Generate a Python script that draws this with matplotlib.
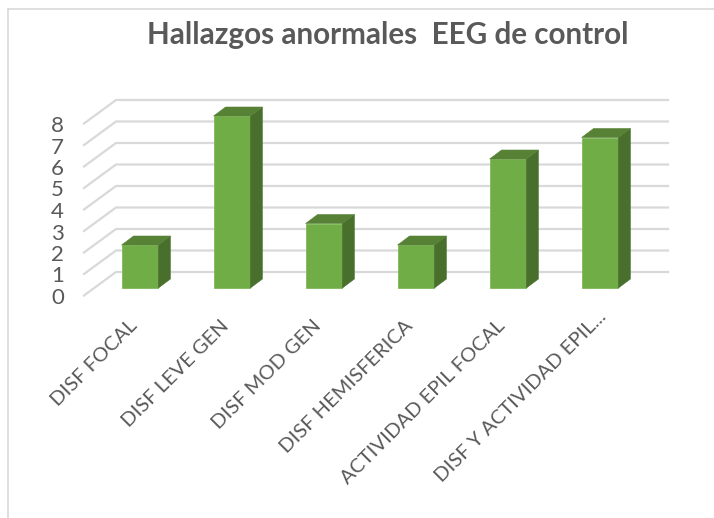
import matplotlib
matplotlib.use('Agg')
import matplotlib.pyplot as plt
from matplotlib.lines import Line2D
from matplotlib.patches import Polygon

categories = ['DISF FOCAL', 'DISF LEVE GEN', 'DISF MOD GEN', 'DISF HEMISFERICA',
              'ACTIVIDAD EPIL FOCAL', 'DISF Y ACTIVIDAD EPIL...']
values = [2, 8, 3, 2, 6, 7]
y_ticks = [0, 1, 2, 3, 4, 5, 6, 7, 8]
title = 'Hallazgos anormales  EEG de control'

plt.rcParams['font.family'] = ['Lato', 'DejaVu Sans']

W, H = 714, 518
fig = plt.figure(figsize=(W / 100, H / 100), dpi=100)

# axes box in pixels, 0 at y=288 and 8 at y=116, first bar centre at x=140, step 92
left, right, top, bottom = 84, 668, 100, 296
ax = fig.add_axes([left / W, 1 - bottom / H, (right - left) / W, (bottom - top) / H])
ax.set_xlim((left - 140) / 92, (right - 140) / 92)
ax.set_ylim(-8 / 21.5, 188 / 21.5)
ax.axis('off')

# fake 3d depth in data units
bar_w = 0.4
dx, dy = 12 / 92, 9 / 21.5
floor_back = 16 / 21.5
floor_front = -7.5 / 21.5
x_left = ax.get_xlim()[0]
x_back = x_left + 32 / 92
x_right = ax.get_xlim()[1]

# gridlines
for v in y_ticks:
    ax.plot([x_left, x_back, x_right], [v + floor_front, v + floor_back, v + floor_back],
            color='#d9d9d9', lw=1.6, clip_on=False, zorder=1, solid_joinstyle='miter')
    ax.text(x_left - 20 / 92, v + floor_front - 2.5 / 21.5, str(v), ha='right', va='center',
            fontsize=16, color='#595959')

# bars
for i, v in enumerate(values):
    x0, x1 = i - bar_w / 2, i + bar_w / 2
    ax.add_patch(Polygon([(x0, 0), (x1, 0), (x1, v), (x0, v)], fc='#70ad47', ec='#7fb85a', lw=0.6, zorder=3))
    ax.add_patch(Polygon([(x1, 0), (x1 + dx, dy), (x1 + dx, v + dy), (x1, v)], fc='#48702c', ec='#48702c', lw=0.4, zorder=3))
    ax.add_patch(Polygon([(x0, v), (x1, v), (x1 + dx, v + dy), (x0 + dx, v + dy)], fc='#578236', ec='#578236', lw=0.4, zorder=3))
    # the truncated last label sits further up the diagonal
    shift = 9 if i == len(values) - 1 else 0
    ax.annotate(categories[i], xy=(i, 0), xytext=((-6 + shift) / 1.39, (-35 + shift) / 1.39),
                textcoords='offset points', rotation=45, rotation_mode='anchor',
                ha='right', va='center', fontsize=14.5, color='#595959', annotation_clip=False)

# chart frame, only top and left show
fig.add_artist(Line2D([8 / W, 1], [1 - 9 / H, 1 - 9 / H], color='#d9d9d9', lw=1.2))
fig.add_artist(Line2D([8 / W, 8 / W], [0, 1 - 9 / H], color='#d9d9d9', lw=1.2))

fig.text(388 / W, 1 - 35 / H, title, ha='center', va='center', fontsize=21.3,
         fontweight='bold', color='#595959')

fig.savefig('out.png', dpi=100)
